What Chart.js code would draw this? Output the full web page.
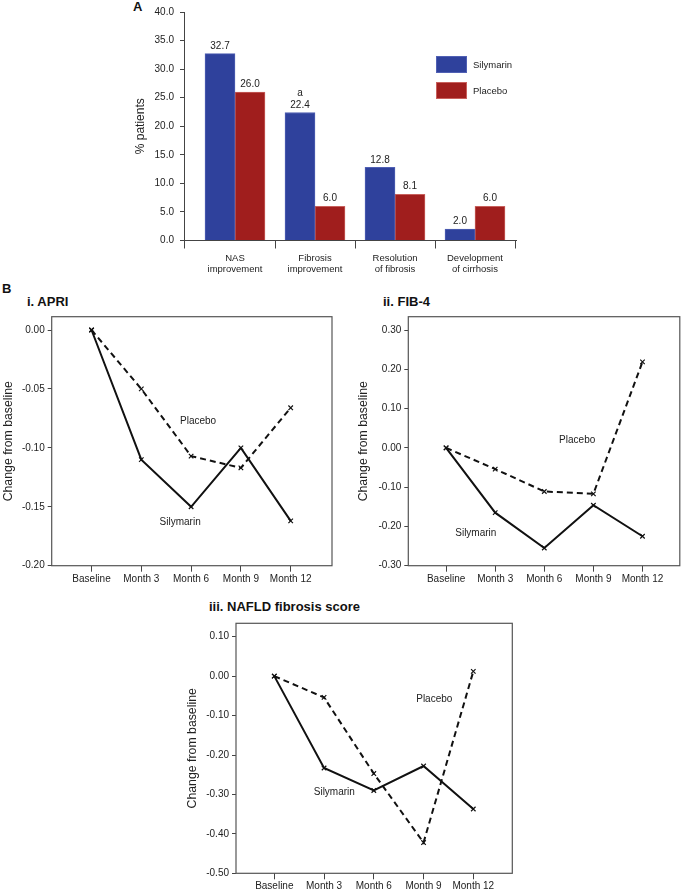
<!DOCTYPE html>
<html>
<head>
<meta charset="utf-8">
<script src="https://cdn.jsdelivr.net/npm/chart.js@4.4.1/dist/chart.umd.min.js"></script>
<style>
  body { margin: 0; background: #fff; width: 685px; height: 891px; position: relative; overflow: hidden;
         font-family: "Liberation Sans", Arial, Helvetica, sans-serif; }
  canvas { position: absolute; }
  .lbl { position: absolute; font-weight: bold; color: #111; white-space: nowrap; line-height: 1; font-size: 13px; }
</style>
</head>
<body>
<div class="lbl" style="left:133px;top:0px">A</div>
<div class="lbl" style="left:2px;top:282px">B</div>
<div class="lbl" style="left:27px;top:295px">i. APRI</div>
<div class="lbl" style="left:383px;top:295px">ii. FIB-4</div>
<div class="lbl" style="left:209px;top:600px">iii. NAFLD fibrosis score</div>

<canvas id="barChart" width="685" height="290" style="left:0;top:0"></canvas>
<canvas id="apriChart" width="340" height="291" style="left:0;top:300px"></canvas>
<canvas id="fib4Chart" width="345" height="291" style="left:340px;top:300px"></canvas>
<canvas id="nfsChart" width="345" height="281" style="left:180px;top:610px"></canvas>

<script>
// panel A: % patients
const barCategories = [["NAS", "improvement"], ["Fibrosis", "improvement"], ["Resolution", "of fibrosis"], ["Development", "of cirrhosis"]];
const silymarinPct = [32.7, 22.4, 12.8, 2.0];
const placeboPct = [26.0, 6.0, 8.1, 6.0];
const barNotes = ["", "a", "", ""];
const pctTicks = [0, 5, 10, 15, 20, 25, 30, 35, 40];

// panel B: change from baseline
const visits = ["Baseline", "Month 3", "Month 6", "Month 9", "Month 12"];
const apriSilymarin = [0, -0.11, -0.15, -0.10, -0.162];
const apriPlacebo = [0, -0.05, -0.107, -0.117, -0.066];
const apriTicks = [-0.20, -0.15, -0.10, -0.05, 0.00];
const fib4Silymarin = [0, -0.165, -0.255, -0.146, -0.225];
const fib4Placebo = [0, -0.054, -0.111, -0.117, 0.219];
const fib4Ticks = [-0.30, -0.20, -0.10, 0.00, 0.10, 0.20, 0.30];
const nfsSilymarin = [0, -0.233, -0.290, -0.228, -0.337];
const nfsPlacebo = [0, -0.054, -0.247, -0.422, 0.012];
const nfsTicks = [-0.50, -0.40, -0.30, -0.20, -0.10, 0.00, 0.10];

const FONT = '"Liberation Sans", Arial, Helvetica, sans-serif';
Chart.defaults.font.family = FONT;
Chart.defaults.color = "#222";

const toPoints = (arr) => arr.map((v, i) => ({ x: i, y: v }));

// values above bars (plus the footnote letter)
const barValuePlugin = {
  id: "barValues",
  afterDatasetsDraw(chart) {
    const ctx = chart.ctx;
    ctx.save();
    ctx.font = "10px " + FONT;
    ctx.fillStyle = "#222";
    ctx.textAlign = "center";
    ctx.textBaseline = "middle";
    chart.data.datasets.forEach((ds, di) => {
      chart.getDatasetMeta(di).data.forEach((bar, i) => {
        ctx.fillText(ds.data[i].y.toFixed(1), bar.x, bar.y - 7.5);
        if (ds.notes && ds.notes[i]) ctx.fillText(ds.notes[i], bar.x, bar.y - 19.5);
      });
    });
    ctx.restore();
  },
};

const barLegendPlugin = {
  id: "barLegend",
  afterDraw(chart) {
    const ctx = chart.ctx;
    const left = chart.chartArea.right - 80;
    let top = 56;
    ctx.save();
    chart.data.datasets.forEach((ds) => {
      ctx.fillStyle = ds.backgroundColor;
      ctx.fillRect(left, top, 31, 17);
      ctx.strokeStyle = ds.borderColor;
      ctx.lineWidth = 1;
      ctx.strokeRect(left + 0.5, top + 0.5, 30, 16);
      ctx.fillStyle = "#222";
      ctx.font = "9.5px " + FONT;
      ctx.textAlign = "left";
      ctx.textBaseline = "middle";
      ctx.fillText(ds.label, left + 37, top + 9);
      top += 26;
    });
    ctx.restore();
  },
};

// category boundaries get a tick mark, category centres only a label
const boundaryTick = (c) => (c.tick && Number.isInteger(c.tick.value) ? "rgba(0,0,0,0)" : "#444");

new Chart(document.getElementById("barChart"), {
  type: "bar",
  data: {
    datasets: [
      { label: "Silymarin", data: toPoints(silymarinPct), notes: barNotes,
        backgroundColor: "#2f419c", borderColor: "#5060b4", borderWidth: 1, barThickness: 30 },
      { label: "Placebo", data: toPoints(placeboPct),
        backgroundColor: "#a01e1d", borderColor: "#c8605c", borderWidth: 1, barThickness: 30 },
    ],
  },
  options: {
    responsive: false,
    animation: false,
    layout: { padding: { left: 130, top: 6, right: 169, bottom: 0 } },
    plugins: { legend: { display: false }, tooltip: { enabled: false } },
    scales: {
      x: {
        type: "linear", min: -0.6375, max: 3.5125, offset: false,
        afterBuildTicks: (s) => { s.ticks = [s.min, 0, 0.5, 1, 1.5, 2, 2.5, 3, 3.5].map((v) => ({ value: v })); },
        afterFit: (s) => { s.height = 49.5; s.paddingLeft = 0; s.paddingRight = 0; },
        grid: { offset: false, drawOnChartArea: false, tickLength: 8, color: "#444", tickColor: boundaryTick },
        border: { color: "#444" },
        ticks: { autoSkip: false, maxRotation: 0, padding: 4, font: { size: 9.5, lineHeight: 1.15 },
                 callback: (v) => (Number.isInteger(v) && barCategories[v] ? barCategories[v] : "") },
      },
      y: {
        min: 0, max: 40,
        afterBuildTicks: (s) => { s.ticks = pctTicks.map((v) => ({ value: v })); },
        afterFit: (s) => { s.width = 54; },
        grid: { drawOnChartArea: false, tickLength: 4, color: "#444" },
        border: { color: "#444" },
        ticks: { padding: 6, font: { size: 10 }, callback: (v) => v.toFixed(1) },
        title: { display: true, text: "% patients", font: { size: 12 }, padding: { top: 3, bottom: 0 } },
      },
    },
  },
  plugins: [barValuePlugin, barLegendPlugin],
});

// box around each line plot
const framePlugin = {
  id: "frame",
  afterDraw(chart) {
    const a = chart.chartArea, ctx = chart.ctx;
    ctx.save();
    ctx.strokeStyle = "#555";
    ctx.lineWidth = 1.2;
    ctx.strokeRect(a.left, a.top, a.right - a.left, a.bottom - a.top);
    ctx.restore();
  },
};

const notesPlugin = {
  id: "notes",
  afterDatasetsDraw(chart, args, opts) {
    const ctx = chart.ctx;
    ctx.save();
    ctx.font = "10px " + FONT;
    ctx.fillStyle = "#222";
    ctx.textAlign = "center";
    ctx.textBaseline = "middle";
    (opts.items || []).forEach((n) => {
      ctx.fillText(n.text, chart.scales.x.getPixelForValue(n.x), chart.scales.y.getPixelForValue(n.y));
    });
    ctx.restore();
  },
};

function lineChart(id, cfg) {
  const common = { borderColor: "#111", borderWidth: 2, pointStyle: "crossRot", pointRadius: 3.2,
                   pointBorderWidth: 1.2, pointBorderColor: "#111", fill: false, tension: 0 };
  new Chart(document.getElementById(id), {
    type: "line",
    data: {
      datasets: [
        Object.assign({ label: "Silymarin", data: toPoints(cfg.sil) }, common),
        Object.assign({ label: "Placebo", data: toPoints(cfg.pla), borderDash: [6, 4] }, common),
      ],
    },
    options: {
      responsive: false,
      animation: false,
      layout: { padding: cfg.padding },
      plugins: { legend: { display: false }, tooltip: { enabled: false }, notes: { items: cfg.notes } },
      scales: {
        x: {
          type: "linear", min: cfg.xRange[0], max: cfg.xRange[1],
          afterBuildTicks: (s) => { s.ticks = visits.map((_, i) => ({ value: i })); },
          afterFit: (s) => { s.height = cfg.xHeight; },
          grid: { drawOnChartArea: false, tickLength: 6, color: "#444" },
          border: { display: false },
          ticks: { autoSkip: false, maxRotation: 0, padding: cfg.xPad, font: { size: 10 },
                   callback: (v) => visits[v] },
        },
        y: {
          min: cfg.yRange[0], max: cfg.yRange[1],
          afterBuildTicks: (s) => { s.ticks = cfg.yTicks.map((v) => ({ value: v })); },
          afterFit: (s) => { s.width = cfg.yWidth; },
          grid: { drawOnChartArea: false, tickLength: 4, color: "#444" },
          border: { display: false },
          ticks: { padding: 3, font: { size: 10 }, callback: (v) => v.toFixed(2) },
          title: { display: true, text: "Change from baseline", font: { size: 12.3 },
                   padding: { top: cfg.titlePad, bottom: 0 } },
        },
      },
    },
    plugins: [framePlugin, notesPlugin],
  });
}

lineChart("apriChart", {
  sil: apriSilymarin, pla: apriPlacebo, yTicks: apriTicks,
  yRange: [-0.20, 0.0113], xRange: [-0.8, 4.83],
  padding: { left: 0, top: 16.7, right: 8, bottom: 0 },
  yWidth: 51.7, xHeight: 25.3, xPad: 2, titlePad: 1,
  notes: [{ text: "Placebo", x: 2.14, y: -0.077 }, { text: "Silymarin", x: 1.78, y: -0.1635 }],
});

lineChart("fib4Chart", {
  sil: fib4Silymarin, pla: fib4Placebo, yTicks: fib4Ticks,
  yRange: [-0.30, 0.334], xRange: [-0.77, 4.76],
  padding: { left: 15, top: 16.7, right: 1.7, bottom: 0 },
  yWidth: 53.3, xHeight: 25.3, xPad: 2, titlePad: 1,
  notes: [{ text: "Placebo", x: 2.67, y: 0.02 }, { text: "Silymarin", x: 0.605, y: -0.218 }],
});

lineChart("nfsChart", {
  sil: nfsSilymarin, pla: nfsPlacebo, yTicks: nfsTicks,
  yRange: [-0.50, 0.134], xRange: [-0.77, 4.784],
  padding: { left: 0, top: 13.3, right: 12.7, bottom: 0 },
  yWidth: 56, xHeight: 17.7, xPad: 1.4, titlePad: 5.3,
  notes: [{ text: "Placebo", x: 3.216, y: -0.059 }, { text: "Silymarin", x: 1.206, y: -0.295 }],
});
</script>
</body>
</html>
